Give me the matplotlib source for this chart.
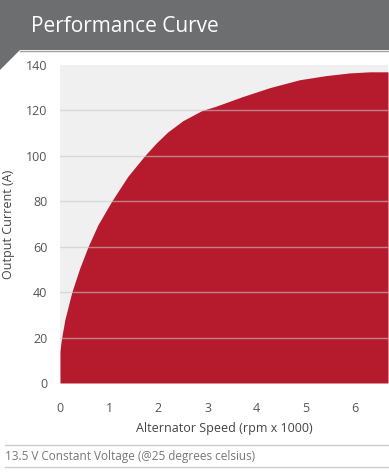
import matplotlib
matplotlib.use('Agg')
import matplotlib.pyplot as plt
from matplotlib.patches import Polygon
from matplotlib.lines import Line2D

# Speed (rpm x 1000) vs output current (A)
speed = [0.0, 0.02, 0.05, 0.1, 0.24, 0.4, 0.57, 0.77, 1.05, 1.38, 1.72, 1.95,
         2.19, 2.5, 2.89, 3.15, 3.7, 4.26, 4.87, 5.4, 5.88, 6.3, 6.67]
current = [14, 18, 22, 28, 40, 50.5, 60, 69.6, 80, 91, 100, 105.5,
           110.5, 115.5, 120, 121.7, 126, 130, 133.5, 135.3, 136.5, 137, 137]
x_ticks = [0, 1, 2, 3, 4, 5, 6]
y_ticks = [0, 20, 40, 60, 80, 100, 120, 140]

title = 'Performance Curve'
x_label = 'Alternator Speed (rpm x 1000)'
y_label = 'Output Current (A)'
footer = '13.5 V Constant Voltage (@25 degrees celsius)'

plt.rcParams['font.family'] = ['Open Sans', 'DejaVu Sans']

W, H = 389, 476
fig = plt.figure(figsize=(W / 100, H / 100), dpi=100)

def fx(px):
    return px / W

def fy(py):
    return 1 - py / H

# Header band with slanted tab at the lower left
header = Polygon([(fx(0), fy(0)), (fx(W), fy(0)), (fx(W), fy(50)), (fx(20), fy(50)),
                  (fx(0), fy(70))], closed=True, transform=fig.transFigure,
                 facecolor='#6d6e70', edgecolor='none')
fig.patches.append(header)
fig.add_artist(Line2D([fx(20), fx(W)], [fy(51), fy(51)], color='#a0a0a0', lw=1,
                      transform=fig.transFigure))
fig.text(fx(31), fy(26), title, color='white', fontsize=15, va='center', ha='left')

# Plot
ax = fig.add_axes([fx(60), fy(383), fx(388) - fx(60), fy(65) - fy(383)])
ax.set_facecolor('#f0f0f0')
ax.fill_between(speed, current, 0, color='#b51b2d', lw=0, zorder=2)
ax.set_xlim(0, 6.67)
ax.set_ylim(0, 140)
ax.set_xticks(x_ticks)
ax.set_yticks(y_ticks)
ax.tick_params(length=0, labelsize=9, labelcolor='#555555')
ax.tick_params(axis='y', pad=9)
ax.tick_params(axis='x', pad=14)
for s in ax.spines.values():
    s.set_visible(False)
for v in y_ticks[1:-1]:
    ax.axhline(v, color='#c8c8c8', lw=1, alpha=0.6, zorder=3)
ax.set_xlabel(x_label, fontsize=9, color='#444444', labelpad=5)
ax.set_ylabel(y_label, fontsize=9, color='#444444', labelpad=8)

# Footer
for py in (445, 467):
    fig.add_artist(Line2D([fx(5), fx(W)], [fy(py), fy(py)], color='#cccccc', lw=1,
                          transform=fig.transFigure))
fig.text(fx(5), fy(456.5), footer, color='#777777', fontsize=8.5, va='center', ha='left')

fig.savefig('out.png', dpi=100)
